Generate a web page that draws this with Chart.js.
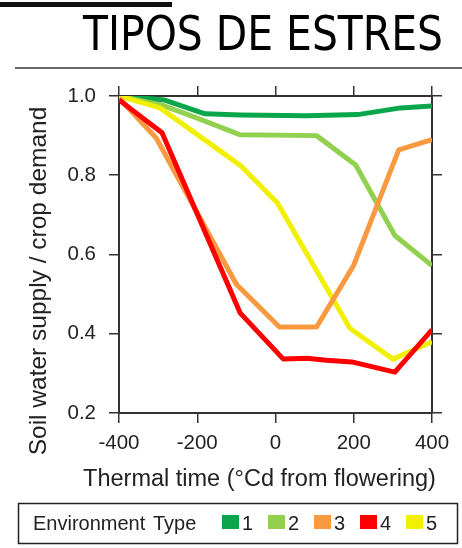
<!DOCTYPE html>
<html>
<head>
<meta charset="utf-8">
<script src="https://cdn.jsdelivr.net/npm/chart.js@4/dist/chart.umd.min.js"></script>
<style>
  html, body { margin: 0; padding: 0; background: #fff; }
  canvas { display: block; }
</style>
</head>
<body>
<canvas id="stress" width="462" height="548"></canvas>
<script>
// thermal time (°Cd from flowering) and soil water supply / crop demand, per environment type
const ttEnv1 = [-400, -285, -180, -90, 80, 210, 320, 400];
const swEnv1 = [1.0, 0.99, 0.955, 0.952, 0.95, 0.953, 0.97, 0.975];

const ttEnv2 = [-400, -290, -200, -90, 105, 205, 305, 400];
const swEnv2 = [1.0, 0.977, 0.944, 0.902, 0.90, 0.826, 0.648, 0.572];

const ttEnv3 = [-400, -305, -100, 10, 105, 200, 315, 400];
const swEnv3 = [0.995, 0.894, 0.525, 0.417, 0.417, 0.573, 0.864, 0.89];

const ttEnv4 = [-400, -290, -90, 20, 80, 130, 195, 305, 400];
const swEnv4 = [0.99, 0.907, 0.452, 0.336, 0.338, 0.333, 0.329, 0.303, 0.41];

const ttEnv5 = [-400, -295, -90, 5, 190, 300, 400];
const swEnv5 = [1.0, 0.97, 0.825, 0.73, 0.414, 0.336, 0.38];

const envLabels = ['1', '2', '3', '4', '5'];
const envColors = ['#0AA64B', '#92D050', '#F99A40', '#FF0000', '#F0F000'];
const xTicks = [-400, -200, 0, 200, 400];
const yTicks = [0.2, 0.4, 0.6, 0.8, 1.0];

const FONT = '"Liberation Sans", Arial, sans-serif';
const INK = '#222';

const pairs = (xs, ys) => xs.map((x, i) => ({ x: x, y: ys[i] }));
const series = [
  pairs(ttEnv1, swEnv1),
  pairs(ttEnv2, swEnv2),
  pairs(ttEnv3, swEnv3),
  pairs(ttEnv4, swEnv4),
  pairs(ttEnv5, swEnv5)
];
// red on top, then orange, yellow, light green, dark green
const drawOrder = [5, 4, 2, 1, 3];

const datasets = series.map((pts, i) => ({
  label: envLabels[i],
  data: pts,
  borderColor: envColors[i],
  backgroundColor: envColors[i],
  borderWidth: 5,
  borderJoinStyle: 'round',
  pointRadius: 0,
  tension: 0,
  order: drawOrder[i]
}));

// header, axis titles and boxed legend
const decorations = {
  id: 'decorations',
  beforeDraw(chart) {
    const ctx = chart.ctx;
    ctx.save();
    ctx.fillStyle = '#111';
    ctx.fillRect(0, 2, 172, 5);
    ctx.strokeStyle = '#666';
    ctx.lineWidth = 2;
    ctx.beginPath();
    ctx.moveTo(15, 68);
    ctx.lineTo(462, 68);
    ctx.stroke();

    // page title, squeezed to its box width
    const title = 'TIPOS DE ESTRES';
    ctx.font = '48px "DejaVu Sans", sans-serif';
    const w = ctx.measureText(title).width;
    ctx.translate(83, 50);
    ctx.scale(360 / w, 1);
    ctx.fillStyle = '#000';
    ctx.textBaseline = 'alphabetic';
    ctx.fillText(title, 0, 0);
    ctx.restore();
  },
  afterDraw(chart) {
    const ctx = chart.ctx;
    ctx.save();
    ctx.fillStyle = INK;

    ctx.font = '23.5px ' + FONT;
    ctx.textAlign = 'center';
    ctx.textBaseline = 'alphabetic';
    ctx.fillText('Thermal time (°Cd from flowering)', 259.5, 486);

    ctx.save();
    ctx.translate(39, 281);
    ctx.rotate(-Math.PI / 2);
    ctx.font = '24.5px ' + FONT;
    ctx.textBaseline = 'middle';
    ctx.fillText('Soil water supply / crop demand', 0, 0);
    ctx.restore();

    ctx.strokeStyle = '#222';
    ctx.lineWidth = 1.5;
    ctx.strokeRect(18.5, 503.5, 439, 40);

    ctx.font = '20px ' + FONT;
    ctx.textAlign = 'left';
    ctx.fillText('Environment', 33, 530);
    ctx.fillText('Type', 153, 530);

    chart.data.datasets.forEach((ds, i) => {
      const x = 222 + i * 46;
      ctx.fillStyle = ds.borderColor;
      ctx.fillRect(x, 515, 17, 14);
      ctx.fillStyle = INK;
      ctx.fillText(ds.label, x + 20, 530);
    });
    ctx.restore();
  }
};

const tickFont = { family: FONT, size: 20.5 };
const frame = { color: '#333', width: 2 };
const outerTicks = { drawOnChartArea: false, tickLength: 10, color: '#333', lineWidth: 1.5 };

new Chart(document.getElementById('stress'), {
  type: 'line',
  data: { datasets: datasets },
  options: {
    responsive: false,
    animation: false,
    layout: { padding: { top: 84, left: 0, right: 0, bottom: 0 } },
    plugins: {
      legend: { display: false },
      title: { display: false },
      tooltip: { enabled: false }
    },
    scales: {
      x: {
        type: 'linear',
        position: 'bottom',
        min: -400, max: 400,
        afterBuildTicks: s => { s.ticks = xTicks.map(v => ({ value: v })); },
        ticks: { font: tickFont, color: INK, padding: 8 },
        grid: outerTicks,
        border: frame,
        afterFit: s => { s.height = 135; }
      },
      x2: {
        type: 'linear',
        position: 'top',
        min: -400, max: 400,
        afterBuildTicks: s => { s.ticks = xTicks.map(v => ({ value: v })); },
        ticks: { display: false },
        grid: outerTicks,
        border: frame,
        afterFit: s => { s.height = 12; }
      },
      y: {
        type: 'linear',
        position: 'left',
        min: 0.2, max: 1.0,
        afterBuildTicks: s => { s.ticks = yTicks.map(v => ({ value: v })); },
        ticks: { font: tickFont, color: INK, padding: 13, callback: v => v.toFixed(1) },
        grid: outerTicks,
        border: frame,
        afterFit: s => { s.width = 119; }
      },
      y2: {
        type: 'linear',
        position: 'right',
        min: 0.2, max: 1.0,
        afterBuildTicks: s => { s.ticks = yTicks.map(v => ({ value: v })); },
        ticks: { display: false },
        grid: outerTicks,
        border: frame,
        afterFit: s => { s.width = 30; }
      }
    }
  },
  plugins: [decorations]
});
</script>
</body>
</html>
